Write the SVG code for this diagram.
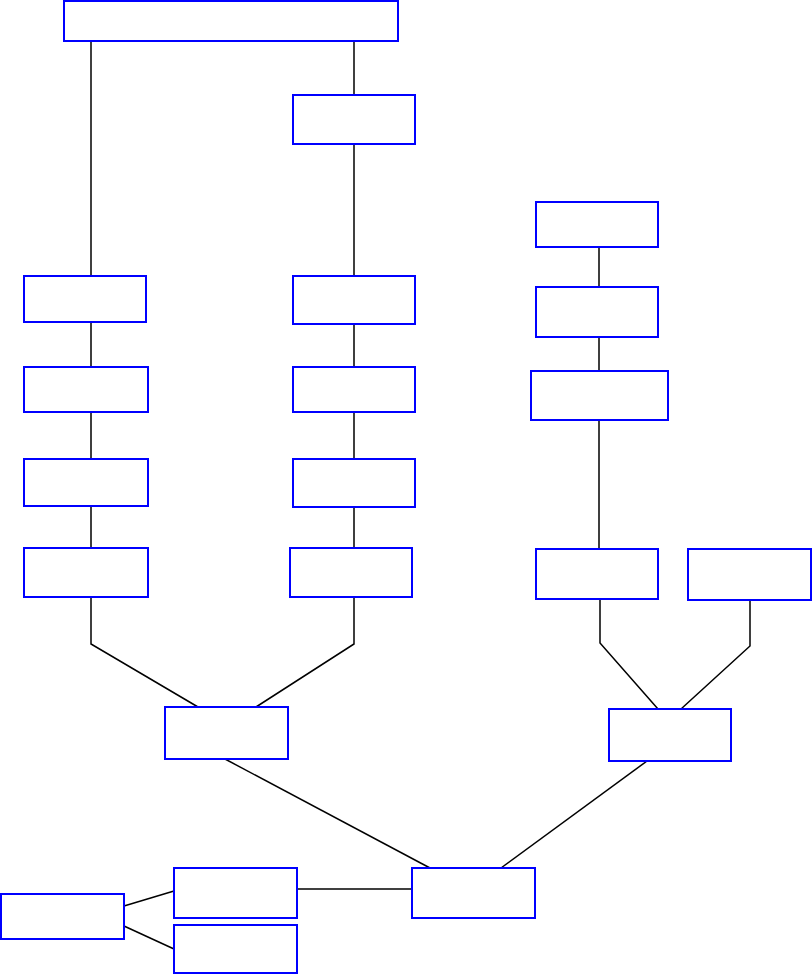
<svg xmlns="http://www.w3.org/2000/svg" width="812" height="975" viewBox="0 0 812 975">
<style>
.n{fill:#fff;stroke:#0000ff;stroke-width:2}
.e{fill:none;stroke:#000;stroke-width:1.5}
</style>
<rect width="812" height="975" fill="#fff"/>
<g id="connectors">
<path class="e" d="M91 41V276"/>
<path class="e" d="M354 41V95"/>
<path class="e" d="M354 144V276"/>
<path class="e" d="M91 322V367M91 412V459M91 506V548"/>
<path class="e" d="M354 324V367M354 412V459M354 507V548"/>
<path class="e" d="M599 247V287M599 337V371M599 420V549"/>
<path class="e" d="M91 597V644L198 707"/>
<path class="e" d="M354 597V644L256 707"/>
<path class="e" d="M600 599V643L658 709"/>
<path class="e" d="M750 600V646L681 709"/>
<path class="e" d="M225 759L430 868"/>
<path class="e" d="M647 761L501 868"/>
<path class="e" d="M297 889H412"/>
<path class="e" d="M124 906L174 891"/>
<path class="e" d="M124 926L174 949"/>
</g>
<g id="top"><rect class="n" x="64" y="1" width="334" height="40"/></g>
<g id="b2"><rect class="n" x="293" y="95" width="122" height="49"/></g>
<g id="l1"><rect class="n" x="24" y="276" width="122" height="46"/></g>
<g id="l2"><rect class="n" x="24" y="367" width="124" height="45"/></g>
<g id="l3"><rect class="n" x="24" y="459" width="124" height="47"/></g>
<g id="l4"><rect class="n" x="24" y="548" width="124" height="49"/></g>
<g id="m1"><rect class="n" x="293" y="276" width="122" height="48"/></g>
<g id="m2"><rect class="n" x="293" y="367" width="122" height="45"/></g>
<g id="m3"><rect class="n" x="293" y="459" width="122" height="48"/></g>
<g id="m4"><rect class="n" x="290" y="548" width="122" height="49"/></g>
<g id="r1"><rect class="n" x="536" y="202" width="122" height="45"/></g>
<g id="r2"><rect class="n" x="536" y="287" width="122" height="50"/></g>
<g id="r3"><rect class="n" x="531" y="371" width="137" height="49"/></g>
<g id="r4"><rect class="n" x="536" y="549" width="122" height="50"/></g>
<g id="r5"><rect class="n" x="688" y="549" width="123" height="51"/></g>
<g id="a"><rect class="n" x="165" y="707" width="123" height="52"/></g>
<g id="b"><rect class="n" x="609" y="709" width="122" height="52"/></g>
<g id="c"><rect class="n" x="412" y="868" width="123" height="50"/></g>
<g id="d"><rect class="n" x="174" y="868" width="123" height="50"/></g>
<g id="e"><rect class="n" x="174" y="925" width="123" height="48"/></g>
<g id="f"><rect class="n" x="1" y="894" width="123" height="45"/></g>
</svg>
